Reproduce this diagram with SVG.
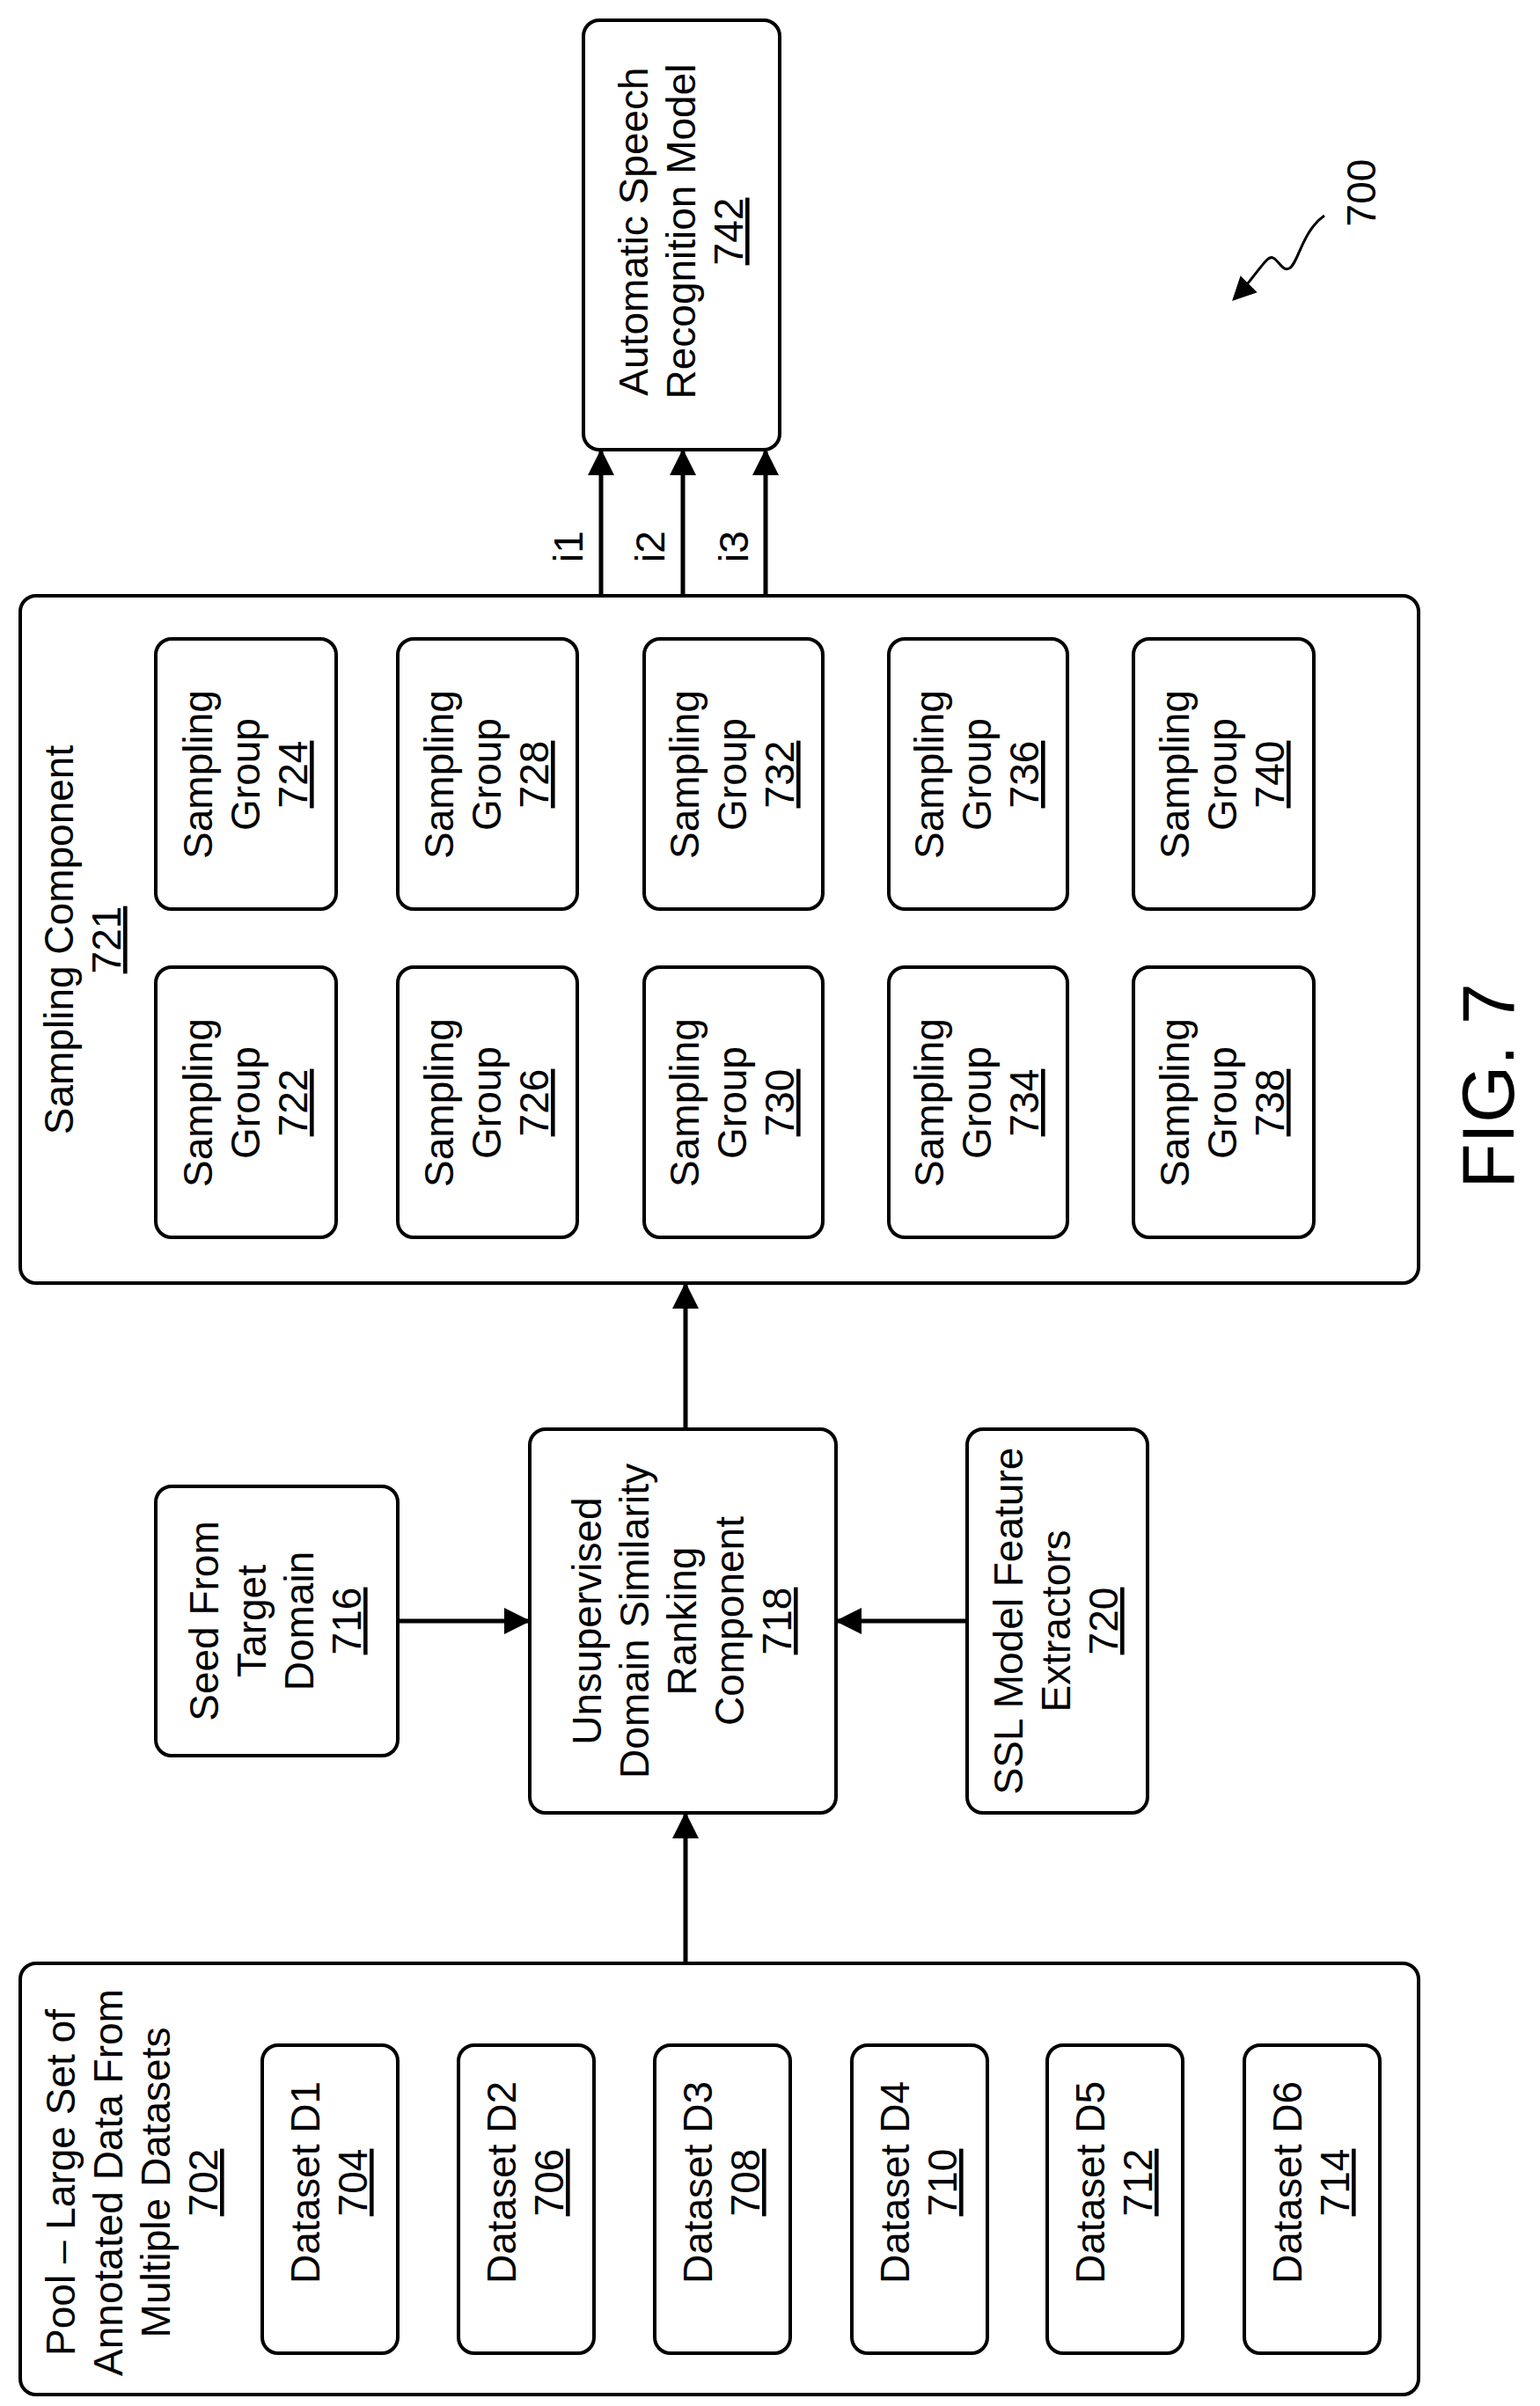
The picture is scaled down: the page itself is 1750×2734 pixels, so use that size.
<svg xmlns="http://www.w3.org/2000/svg" width="1750" height="2734" viewBox="0 0 1750 2734">
<style>
.b{fill:#fff;stroke:#000;stroke-width:4}
.t{font-family:"Liberation Sans",Arial,sans-serif;font-size:46px;text-anchor:middle;fill:#000}
.u{text-decoration:underline}
.c{stroke:#000;stroke-width:5;fill:none}
</style>
<defs>
<marker id="a" viewBox="0 0 10 10" refX="9" refY="5" markerWidth="6.5" markerHeight="6" orient="auto" markerUnits="strokeWidth"><path d="M0,0L10,5L0,10z" fill="#000"/></marker>
<marker id="s" viewBox="0 0 10 10" refX="9" refY="5" markerWidth="9" markerHeight="9" orient="auto" markerUnits="strokeWidth"><path d="M0,0L10,5L0,10z" fill="#000"/></marker>
</defs>
<rect width="1750" height="2734" fill="#fff"/>
<g id="n742"><rect class="b" x="663" y="23" width="223" height="488" rx="18"/>
<text class="t" transform="translate(775,263) rotate(-90)"><tspan x="0" y="-39">Automatic Speech</tspan><tspan x="0" y="15">Recognition Model</tspan><tspan x="0" y="69" class="u">742</tspan></text></g>
<g id="n700"><text class="t" transform="translate(1563,219) rotate(-90)">700</text></g>
<g id="n721"><rect class="b" x="23" y="677" width="1589" height="781" rx="18"/>
<text class="t" transform="translate(95,1068) rotate(-90)"><tspan x="0" y="-12">Sampling Component</tspan><tspan x="0" y="42" class="u">721</tspan></text></g>
<g id="groups">
<g id="n724"><rect class="b" x="177" y="726" width="205" height="307" rx="18"/><text class="t" transform="translate(280,880) rotate(-90)"><tspan x="0" y="-39">Sampling</tspan><tspan x="0" y="15">Group</tspan><tspan x="0" y="69" class="u">724</tspan></text></g>
<g id="n722"><rect class="b" x="177" y="1099" width="205" height="307" rx="18"/><text class="t" transform="translate(280,1253) rotate(-90)"><tspan x="0" y="-39">Sampling</tspan><tspan x="0" y="15">Group</tspan><tspan x="0" y="69" class="u">722</tspan></text></g>
<g id="n728"><rect class="b" x="452" y="726" width="204" height="307" rx="18"/><text class="t" transform="translate(554,880) rotate(-90)"><tspan x="0" y="-39">Sampling</tspan><tspan x="0" y="15">Group</tspan><tspan x="0" y="69" class="u">728</tspan></text></g>
<g id="n726"><rect class="b" x="452" y="1099" width="204" height="307" rx="18"/><text class="t" transform="translate(554,1253) rotate(-90)"><tspan x="0" y="-39">Sampling</tspan><tspan x="0" y="15">Group</tspan><tspan x="0" y="69" class="u">726</tspan></text></g>
<g id="n732"><rect class="b" x="732" y="726" width="203" height="307" rx="18"/><text class="t" transform="translate(833,880) rotate(-90)"><tspan x="0" y="-39">Sampling</tspan><tspan x="0" y="15">Group</tspan><tspan x="0" y="69" class="u">732</tspan></text></g>
<g id="n730"><rect class="b" x="732" y="1099" width="203" height="307" rx="18"/><text class="t" transform="translate(833,1253) rotate(-90)"><tspan x="0" y="-39">Sampling</tspan><tspan x="0" y="15">Group</tspan><tspan x="0" y="69" class="u">730</tspan></text></g>
<g id="n736"><rect class="b" x="1010" y="726" width="203" height="307" rx="18"/><text class="t" transform="translate(1111,880) rotate(-90)"><tspan x="0" y="-39">Sampling</tspan><tspan x="0" y="15">Group</tspan><tspan x="0" y="69" class="u">736</tspan></text></g>
<g id="n734"><rect class="b" x="1010" y="1099" width="203" height="307" rx="18"/><text class="t" transform="translate(1111,1253) rotate(-90)"><tspan x="0" y="-39">Sampling</tspan><tspan x="0" y="15">Group</tspan><tspan x="0" y="69" class="u">734</tspan></text></g>
<g id="n740"><rect class="b" x="1288" y="726" width="205" height="307" rx="18"/><text class="t" transform="translate(1390,880) rotate(-90)"><tspan x="0" y="-39">Sampling</tspan><tspan x="0" y="15">Group</tspan><tspan x="0" y="69" class="u">740</tspan></text></g>
<g id="n738"><rect class="b" x="1288" y="1099" width="205" height="307" rx="18"/><text class="t" transform="translate(1390,1253) rotate(-90)"><tspan x="0" y="-39">Sampling</tspan><tspan x="0" y="15">Group</tspan><tspan x="0" y="69" class="u">738</tspan></text></g>
</g>
<g id="fig"><text class="t" style="font-size:84px" transform="translate(1720,1234) rotate(-90)">FIG. 7</text></g>
<g id="n716"><rect class="b" x="177" y="1689" width="275" height="306" rx="18"/><text class="t" transform="translate(314,1842) rotate(-90)"><tspan x="0" y="-66">Seed From</tspan><tspan x="0" y="-12">Target</tspan><tspan x="0" y="42">Domain</tspan><tspan x="0" y="96" class="u">716</tspan></text></g>
<g id="n718"><rect class="b" x="602" y="1624" width="348" height="436" rx="18"/><text class="t" transform="translate(776,1842) rotate(-90)"><tspan x="0" y="-93">Unsupervised</tspan><tspan x="0" y="-39">Domain Similarity</tspan><tspan x="0" y="15">Ranking</tspan><tspan x="0" y="69">Component</tspan><tspan x="0" y="123" class="u">718</tspan></text></g>
<g id="n720"><rect class="b" x="1099" y="1624" width="205" height="436" rx="18"/><text class="t" transform="translate(1201,1842) rotate(-90)"><tspan x="0" y="-39">SSL Model Feature</tspan><tspan x="0" y="15">Extractors</tspan><tspan x="0" y="69" class="u">720</tspan></text></g>
<g id="n702"><rect class="b" x="23" y="2231" width="1589" height="490" rx="18"/>
<text class="t" transform="translate(151,2480) rotate(-90)"><tspan x="0" y="-66">Pool – Large Set of</tspan><tspan x="0" y="-12">Annotated Data From</tspan><tspan x="0" y="42">Multiple Datasets</tspan><tspan x="0" y="96" class="u">702</tspan></text></g>
<g id="datasets">
<g id="n704"><rect class="b" x="298" y="2324" width="154" height="350" rx="18"/><text class="t" transform="translate(375,2480) rotate(-90)"><tspan x="0" y="-12">Dataset D1</tspan><tspan x="0" y="42" class="u">704</tspan></text></g>
<g id="n706"><rect class="b" x="521" y="2324" width="154" height="350" rx="18"/><text class="t" transform="translate(598,2480) rotate(-90)"><tspan x="0" y="-12">Dataset D2</tspan><tspan x="0" y="42" class="u">706</tspan></text></g>
<g id="n708"><rect class="b" x="744" y="2324" width="154" height="350" rx="18"/><text class="t" transform="translate(821,2480) rotate(-90)"><tspan x="0" y="-12">Dataset D3</tspan><tspan x="0" y="42" class="u">708</tspan></text></g>
<g id="n710"><rect class="b" x="968" y="2324" width="154" height="350" rx="18"/><text class="t" transform="translate(1045,2480) rotate(-90)"><tspan x="0" y="-12">Dataset D4</tspan><tspan x="0" y="42" class="u">710</tspan></text></g>
<g id="n712"><rect class="b" x="1190" y="2324" width="154" height="350" rx="18"/><text class="t" transform="translate(1267,2480) rotate(-90)"><tspan x="0" y="-12">Dataset D5</tspan><tspan x="0" y="42" class="u">712</tspan></text></g>
<g id="n714"><rect class="b" x="1414" y="2324" width="154" height="350" rx="18"/><text class="t" transform="translate(1491,2480) rotate(-90)"><tspan x="0" y="-12">Dataset D6</tspan><tspan x="0" y="42" class="u">714</tspan></text></g>
</g>
<g id="connectors">
<line class="c" x1="683" y1="677" x2="683" y2="513" marker-end="url(#a)"/>
<line class="c" x1="776" y1="677" x2="776" y2="513" marker-end="url(#a)"/>
<line class="c" x1="870" y1="677" x2="870" y2="513" marker-end="url(#a)"/>
<line class="c" x1="779" y1="1624" x2="779" y2="1460" marker-end="url(#a)"/>
<line class="c" x1="779" y1="2231" x2="779" y2="2062" marker-end="url(#a)"/>
<line class="c" x1="452" y1="1842" x2="600" y2="1842" marker-end="url(#a)"/>
<line class="c" x1="1099" y1="1842" x2="952" y2="1842" marker-end="url(#a)"/>
<path d="M1505,245 C1480,262 1475,300 1465,305 C1455,310 1450,285 1440,295 C1430,305 1420,322 1402,340" stroke="#000" stroke-width="3" fill="none" marker-end="url(#s)"/>
<text class="t" transform="translate(662,621) rotate(-90)">i1</text>
<text class="t" transform="translate(755,621) rotate(-90)">i2</text>
<text class="t" transform="translate(850,621) rotate(-90)">i3</text>
</g>
</svg>
